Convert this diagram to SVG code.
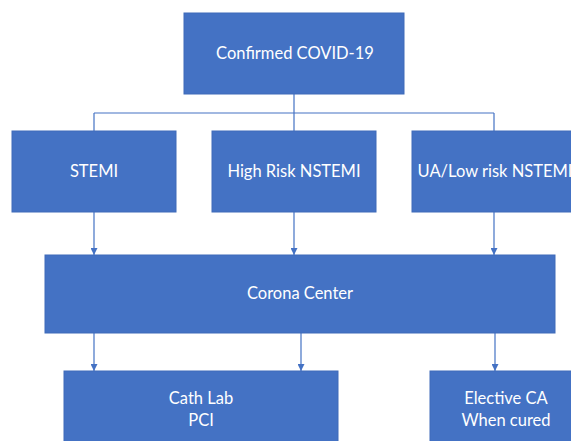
<svg xmlns="http://www.w3.org/2000/svg" width="571" height="441" viewBox="0 0 571 441">
<defs>
<style>
.box{fill:#4472C4;stroke:#3F6BB9;stroke-width:1}
.t{fill:#FFFFFF;font-family:Lato,"Open Sans","Liberation Sans",sans-serif;font-size:16.5px;text-anchor:middle}
.c{fill:none;stroke:#4472C4;stroke-width:1.2}
</style>
<marker id="ah" viewBox="0 0 10 10" refX="10" refY="5" markerWidth="7" markerHeight="7" markerUnits="userSpaceOnUse" orient="auto">
<path d="M0,0 L10,5 L0,10 z" fill="#4472C4"/>
</marker>
</defs>
<rect width="571" height="441" fill="#FFFFFF"/>
<g id="connectors">
<path class="c" d="M294,94 V113 M94,113 H494 M94,113 V131 M294,113 V131 M494,113 V131"/>
<line class="c" x1="94" y1="212" x2="94" y2="255" marker-end="url(#ah)"/>
<line class="c" x1="294" y1="212" x2="294" y2="255" marker-end="url(#ah)"/>
<line class="c" x1="494" y1="212" x2="494" y2="255" marker-end="url(#ah)"/>
<line class="c" x1="94" y1="333" x2="94" y2="371" marker-end="url(#ah)"/>
<line class="c" x1="301" y1="333" x2="301" y2="371" marker-end="url(#ah)"/>
<line class="c" x1="495" y1="333" x2="495" y2="371" marker-end="url(#ah)"/>
</g>
<g id="confirmed">
<rect class="box" x="184" y="13" width="220" height="81"/>
<text class="t" x="295" y="59">Confirmed COVID-19</text>
</g>
<g id="stemi">
<rect class="box" x="12" y="131" width="164" height="81"/>
<text class="t" x="94" y="177">STEMI</text>
</g>
<g id="highrisk">
<rect class="box" x="212" y="131" width="164" height="81"/>
<text class="t" x="294" y="177">High Risk NSTEMI</text>
</g>
<g id="ualowrisk">
<rect class="box" x="412" y="131" width="164" height="81"/>
<text class="t" x="495" y="177">UA/Low risk NSTEMI</text>
</g>
<g id="corona">
<rect class="box" x="45" y="255" width="510" height="78"/>
<text class="t" x="300" y="299">Corona Center</text>
</g>
<g id="cathlab">
<rect class="box" x="64" y="371" width="274" height="80"/>
<text class="t" x="201" y="404">Cath Lab</text>
<text class="t" x="201" y="426">PCI</text>
</g>
<g id="elective">
<rect class="box" x="430" y="371" width="164" height="80"/>
<text class="t" x="506" y="404">Elective CA</text>
<text class="t" x="506" y="426">When cured</text>
</g>
</svg>
